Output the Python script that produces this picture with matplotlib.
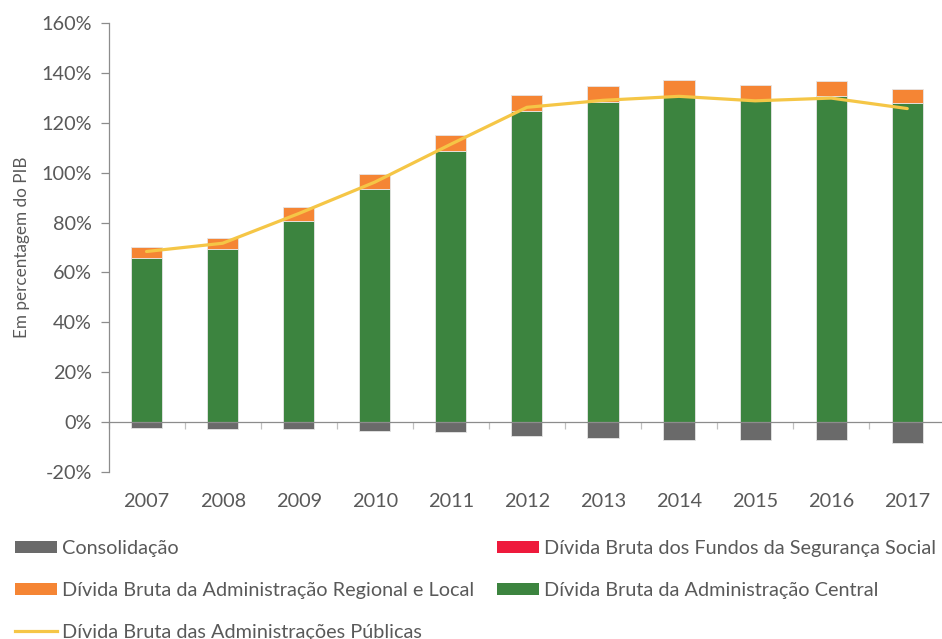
import numpy as np
import matplotlib
matplotlib.use("Agg")
import matplotlib.pyplot as plt
from matplotlib.patches import Patch
from matplotlib.lines import Line2D

plt.rcParams['font.family'] = ['Lato', 'DejaVu Sans']

years = ['2007', '2008', '2009', '2010', '2011', '2012', '2013', '2014', '2015', '2016', '2017']
consolidacao = [-2.4, -2.8, -2.9, -3.5, -4.1, -5.6, -6.3, -7.1, -7.1, -7.3, -8.3]
adm_central = [65.9, 69.3, 80.5, 93.3, 108.8, 124.9, 128.5, 130.8, 129.1, 130.9, 128.1]
adm_regional = [4.5, 4.7, 5.8, 6.0, 6.3, 6.4, 6.3, 6.4, 6.2, 5.9, 5.4]
seg_social = [0.0, 0.0, 0.0, 0.0, 0.0, 0.0, 0.0, 0.0, 0.0, 0.0, 0.0]
adm_publicas = [68.4, 71.7, 83.6, 96.2, 111.4, 126.2, 129.0, 130.6, 128.8, 129.9, 125.7]

C_CONS = '#6a6a6a'
C_CENT = '#3c843f'
C_REG = '#f58534'
C_SS = '#ee1a3c'
C_LINE = '#f5c646'
TXT = '#595959'
FS_TICK = 14.3
FS_LEG = 14.3
FS_LAB = 12.3

fig = plt.figure(figsize=(9.42, 6.39), dpi=100)
W, H = 942, 639
ax = fig.add_axes([108.5 / W, 167 / H, (945.3 - 108.5) / W, 449 / H])

x = np.arange(len(years))
bw = 0.41
edge = dict(edgecolor='#e6e6e6', linewidth=0.6)
ax.bar(x, consolidacao, bw, color=C_CONS, zorder=2, **edge)
ax.bar(x, adm_central, bw, color=C_CENT, zorder=2, **edge)
ax.bar(x, adm_regional, bw, bottom=adm_central, color=C_REG, zorder=2, **edge)
bottom_ss = np.array(adm_central) + np.array(adm_regional)
ax.bar(x, seg_social, bw, bottom=bottom_ss, color=C_SS, zorder=2, linewidth=0)
ax.plot(x, adm_publicas, color=C_LINE, lw=2.3, zorder=3, solid_capstyle='round')

ax.set_xlim(-0.5, 10.5)
ax.set_ylim(-20, 160)
ax.set_yticks(np.arange(-20, 161, 20))
ax.set_yticklabels([f'{v}%' for v in range(-20, 161, 20)])

for s in ['top', 'right']:
    ax.spines[s].set_visible(False)
ax.spines['left'].set_color('#8c8c8c')
ax.spines['left'].set_linewidth(0.9)
ax.spines['bottom'].set_position(('data', 0))
ax.spines['bottom'].set_color('#8c8c8c')
ax.spines['bottom'].set_linewidth(0.9)
ax.spines['bottom'].set_zorder(4)

ax.set_xticks(np.arange(-0.5, 10.6, 1))
ax.set_xticklabels([])
ax.set_xticks(x, minor=True)
ax.set_xticklabels(years, minor=True)
ax.tick_params(axis='x', which='major', length=5, width=0.9, color='#c0c0c0', direction='out')
ax.tick_params(axis='x', which='minor', length=0, pad=51, labelsize=FS_TICK, labelcolor=TXT)
ax.tick_params(axis='y', length=5.5, width=0.9, color='#8c8c8c', pad=6.5, labelsize=FS_TICK, labelcolor=TXT)

ax.set_ylabel('Em percentagem do PIB', fontsize=FS_LAB, color=TXT)
ax.yaxis.set_label_coords(-0.094, 0.5)

common = dict(loc='upper left', frameon=False, fontsize=FS_LEG, labelcolor=TXT, handlelength=2.1,
              handleheight=0.6, handletextpad=0.25, labelspacing=1.25, borderpad=0, borderaxespad=0)
h1 = [Patch(facecolor=C_CONS), Patch(facecolor=C_REG), Line2D([0], [0], color=C_LINE, lw=2.3)]
l1 = ['Consolidação', 'Dívida Bruta da Administração Regional e Local', 'Dívida Bruta das Administrações Públicas']
h2 = [Patch(facecolor=C_SS), Patch(facecolor=C_CENT)]
l2 = ['Dívida Bruta dos Fundos da Segurança Social', 'Dívida Bruta da Administração Central']
fig.legend(h1, l1, bbox_to_anchor=(15 / W, 1 - 540 / H), **common)
fig.legend(h2, l2, bbox_to_anchor=(497 / W, 1 - 540 / H), **common)

fig.savefig('out.png', dpi=100)
